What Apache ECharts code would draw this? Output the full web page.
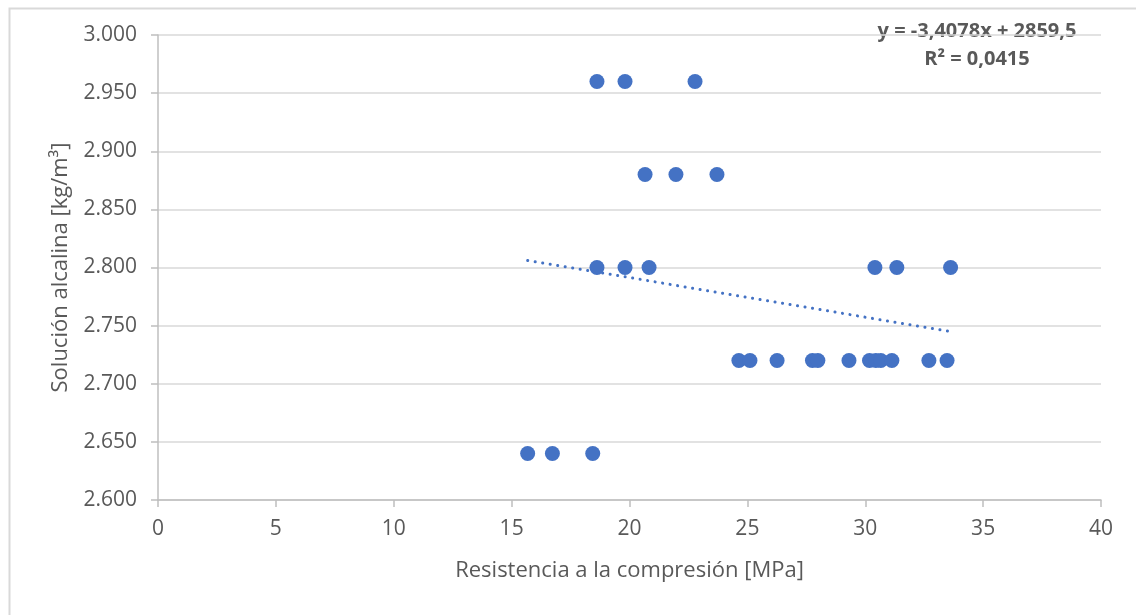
<!DOCTYPE html>
<html>
<head>
<meta charset="utf-8">
<script src="https://cdn.jsdelivr.net/npm/echarts@6/dist/echarts.min.js"></script>
<style>
  html, body { margin: 0; padding: 0; background: #fff; }
  #chart { width: 1136px; height: 615px; }
</style>
</head>
<body>
<div id="chart"></div>
<script>
// resistencia a la compresión [MPa] por fila de solución alcalina
var rowLevels = [2960, 2880, 2800, 2720, 2640];
var mpa2960 = [18.62, 19.81, 22.78];
var mpa2880 = [20.66, 21.97, 23.71];
var mpa2800 = [18.62, 19.81, 20.83, 30.41, 31.34, 33.62];
var mpa2720 = [24.64, 25.11, 26.26, 27.76, 27.99, 29.31, 30.18, 30.45, 30.66, 31.13, 32.70, 33.47];
var mpa2640 = [15.68, 16.73, 18.44];

// línea de tendencia (Excel): y = -3,4078x + 2859,5
var trendSlope = -3.4078;
var trendIntercept = 2859.5;
var trendLabel = ['y = -3,4078x + 2859,5', 'R² = 0,0415'];

var rows = [mpa2960, mpa2880, mpa2800, mpa2720, mpa2640];
var points = [];
rows.forEach(function (xs, i) {
  xs.forEach(function (x) { points.push([x, rowLevels[i]]); });
});
var allX = points.map(function (p) { return p[0]; });
var xMin = Math.min.apply(null, allX), xMax = Math.max.apply(null, allX);
var trend = [
  [xMin, trendIntercept + trendSlope * xMin],
  [xMax, trendIntercept + trendSlope * xMax]
];

var grey = '#595959';
var font = 'Open Sans';

function fmtThousands(v) {
  var s = String(Math.round(v));
  return s.replace(/\B(?=(\d{3})+(?!\d))/g, '.');
}

var chart = echarts.init(document.getElementById('chart'));
chart.setOption({
  animation: false,
  textStyle: { fontFamily: font, color: grey },
  grid: { left: 158, right: 35, top: 35, bottom: 115 },
  graphic: [
    {
      type: 'rect', left: 7, top: 6, silent: true,
      shape: { width: 1200, height: 700 },
      style: { fill: 'none', stroke: '#d9d9d9', lineWidth: 2 }
    },
    {
      type: 'text', x: 977, y: 17,
      style: {
        text: trendLabel.join('\n'), align: 'center', verticalAlign: 'top',
        font: 'bold 20px "Open Sans"', fill: grey, lineHeight: 28
      }
    }
  ],
  xAxis: {
    type: 'value', min: 0, max: 40, interval: 5,
    name: 'Resistencia a la compresión [MPa]',
    nameLocation: 'middle', nameGap: 60,
    nameTextStyle: { fontSize: 22, color: grey, fontFamily: font },
    axisLine: { show: true, onZero: false, lineStyle: { color: '#bfbfbf', width: 1.5 } },
    axisTick: { show: true, length: 7, lineStyle: { color: '#bfbfbf', width: 1.5 } },
    axisLabel: { fontSize: 21, color: grey, margin: 19 },
    splitLine: { show: false }
  },
  yAxis: {
    type: 'value', min: 2600, max: 3000, interval: 50,
    name: 'Solución alcalina [kg/m³]',
    nameLocation: 'middle', nameGap: 86, nameRotate: 90,
    nameTextStyle: { fontSize: 22, color: grey, fontFamily: font },
    axisLine: { show: true, lineStyle: { color: '#bfbfbf', width: 1.5 } },
    axisTick: { show: true, length: 7, lineStyle: { color: '#bfbfbf', width: 1.5 } },
    axisLabel: { fontSize: 21, color: grey, margin: 21, formatter: fmtThousands },
    splitLine: { show: true, lineStyle: { color: '#d9d9d9', width: 1.5 } }
  },
  series: [
    {
      name: 'Tendencia', type: 'line', data: trend,
      symbol: 'none', silent: true, z: 1,
      lineStyle: { color: '#4472c4', width: 3, type: [0.1, 7.5], cap: 'round' }
    },
    {
      name: 'Datos', type: 'scatter', data: points,
      symbol: 'circle', symbolSize: 15, z: 2,
      itemStyle: { color: '#4472c4', opacity: 1 }
    }
  ]
});
</script>
</body>
</html>
